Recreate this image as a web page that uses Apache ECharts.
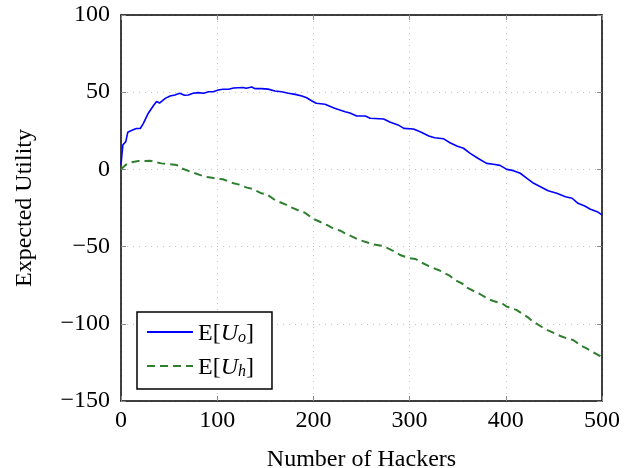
<!DOCTYPE html>
<html>
<head>
<meta charset="utf-8">
<script src="https://cdn.jsdelivr.net/npm/echarts@6/dist/echarts.min.js"></script>
<style>
  html, body { margin: 0; padding: 0; background: #fff; }
  #main { width: 636px; height: 468px; }
</style>
</head>
<body>
<div id="main"></div>
<script>
  // E[U_o] readings
  const hackersO = [0, 1, 2, 5, 7, 12, 16, 20, 23, 28, 34, 37, 40, 46, 51, 56, 61, 66, 70, 75, 80, 86, 91, 96,
    101, 106, 112, 117, 122, 127, 130, 136, 139, 146, 153, 160, 167, 174, 181, 188, 193, 198, 203, 212, 222,
    233, 238, 245, 254, 259, 273, 280, 288, 294, 304, 311, 320, 326, 335, 342, 349, 356, 363, 371, 380, 387,
    394, 401, 408, 415, 422, 429, 436, 444, 453, 462, 469, 475, 482, 488, 495, 500];
  const utilityO = [3, 10, 16, 18, 24, 25.5, 26.5, 26.5, 29.5, 36, 41.5, 44, 43, 46, 47.5, 48.2, 49.3, 48, 48.2,
    49.3, 49.7, 49.3, 50.3, 50.3, 51.4, 51.9, 51.9, 52.7, 52.9, 53, 52.5, 53.4, 52.3, 52.3, 52, 50.8, 50.3,
    49.3, 48.6, 47.5, 46.4, 44.5, 42.8, 42.2, 39.6, 37.4, 36.5, 34.6, 34.6, 33.1, 32.6, 30.5, 28.8, 26.6,
    26.2, 24.4, 21.6, 20.5, 19.9, 17.3, 15.2, 13.7, 10.4, 7.2, 3.9, 3.3, 2.6, 0, -0.8, -2.5, -5.8, -9, -11.2,
    -13.8, -15.5, -17.7, -18.7, -22, -23.7, -25.8, -27.4, -29.5];

  // E[U_h] readings
  const hackersH = [0, 5, 11, 18, 30, 42, 48, 58, 63, 72, 77, 87, 93, 101, 106, 117, 122, 131, 136, 146, 151,
    160, 164, 172, 177, 186, 191, 200, 205, 214, 219, 228, 233, 242, 247, 257, 261, 271, 276, 287, 290, 300,
    306, 314, 320, 328, 333, 342, 347, 356, 359, 368, 373, 382, 387, 397, 401, 411, 415, 423, 427, 437, 441,
    451, 456, 465, 470, 479, 484, 493, 498, 500];
  const utilityH = [0, 3, 4.6, 5.4, 5.6, 3.9, 3.5, 2.8, 0.7, -1.5, -2.5, -4.7, -5.2, -6.2, -6.4, -9, -9.7,
    -11.8, -12.5, -15.5, -15.9, -19.8, -20.9, -23, -24.6, -27, -28, -32.1, -33.4, -36, -37.7, -39.7, -41.4,
    -44, -45.5, -47.5, -48.5, -49.4, -50.7, -54, -55.4, -57.6, -58, -60.8, -62.6, -64.7, -66, -69, -71.6,
    -74.4, -76.4, -79.2, -80.7, -84.1, -85.2, -87.2, -88.9, -91, -92.6, -95.8, -98, -101.9, -103.4, -106.2,
    -107.7, -109.8, -110.5, -114.4, -115.9, -119.1, -120.9, -122];

  const seriesNames = ['E[U_o]', 'E[U_h]'];
  const xTicks = { min: 0, max: 500, step: 100 };
  const yTicks = { min: -150, max: 100, step: 50 };

  const font = 'Liberation Serif';
  const fs = 24;
  const zip = (xs, ys) => xs.map((x, i) => [x, ys[i]]);

  const chart = echarts.init(document.getElementById('main'));

  const frame = { show: true, onZero: false, lineStyle: { color: '#000', width: 1.5 } };
  const tick = { show: true, inside: true, length: 5, lineStyle: { color: '#8a8a8a', width: 1 } };
  const dotted = { show: true, lineStyle: { color: '#c4c4c4', width: 1, type: [1, 5] } };

  chart.setOption({
    backgroundColor: '#fff',
    animation: false,
    grid: { left: 121, right: 34, top: 15, bottom: 67, outerBoundsMode: 'none', containLabel: false },
    xAxis: [
      {
        type: 'value', min: xTicks.min, max: xTicks.max, interval: xTicks.step,
        name: 'Number of Hackers', nameLocation: 'middle', nameGap: 47,
        nameTextStyle: { fontFamily: font, fontSize: fs, color: '#000' },
        axisLine: frame, axisTick: tick, splitLine: dotted,
        axisLabel: { fontFamily: font, fontSize: fs, color: '#000', margin: 8 }
      },
      {
        type: 'value', position: 'top', min: xTicks.min, max: xTicks.max, interval: xTicks.step,
        axisLine: frame, axisTick: tick, splitLine: { show: false }, axisLabel: { show: false }
      }
    ],
    yAxis: [
      {
        type: 'value', min: yTicks.min, max: yTicks.max, interval: yTicks.step,
        name: 'Expected Utility', nameLocation: 'middle', nameGap: 84,
        nameTextStyle: { fontFamily: font, fontSize: fs, color: '#000' },
        axisLine: frame, axisTick: tick, splitLine: dotted,
        axisLabel: {
          fontFamily: font, fontSize: fs, color: '#000', margin: 11,
          formatter: v => (v < 0 ? '\u2212' + Math.abs(v) : String(v))
        }
      },
      {
        type: 'value', position: 'right', min: yTicks.min, max: yTicks.max, interval: yTicks.step,
        axisLine: frame, axisTick: tick, splitLine: { show: false }, axisLabel: { show: false }
      }
    ],
    legend: {
      orient: 'vertical',
      left: 137, top: 312,
      backgroundColor: '#fff',
      borderColor: '#000', borderWidth: 1.5, borderRadius: 0,
      padding: [10, 18, 9, 9],
      itemWidth: 46, itemHeight: 14, itemGap: 10,
      itemStyle: { opacity: 0 },
      data: seriesNames,
      formatter: name => {
        const sub = name.slice(4, 5);
        return '{r|E[}{i|U}{s|' + sub + '}{r|]}';
      },
      textStyle: {
        fontFamily: font, fontSize: fs, color: '#000',
        rich: {
          r: { fontFamily: font, fontSize: fs, lineHeight: 28, verticalAlign: 'bottom', color: '#000' },
          i: { fontFamily: font, fontSize: fs, fontStyle: 'italic', lineHeight: 28, verticalAlign: 'bottom', color: '#000' },
          s: { fontFamily: font, fontSize: 16, fontStyle: 'italic', lineHeight: 16, verticalAlign: 'bottom', color: '#000' }
        }
      }
    },
    series: [
      {
        name: seriesNames[0], type: 'line', symbol: 'none',
        data: zip(hackersO, utilityO),
        lineStyle: { color: '#0000ff', width: 1.6 },
        itemStyle: { color: '#0000ff' }
      },
      {
        name: seriesNames[1], type: 'line', symbol: 'none',
        data: zip(hackersH, utilityH),
        lineStyle: { color: '#2f7f2f', width: 2, type: [8, 5] },
        itemStyle: { color: '#2f7f2f' }
      }
    ]
  });
</script>
</body>
</html>
